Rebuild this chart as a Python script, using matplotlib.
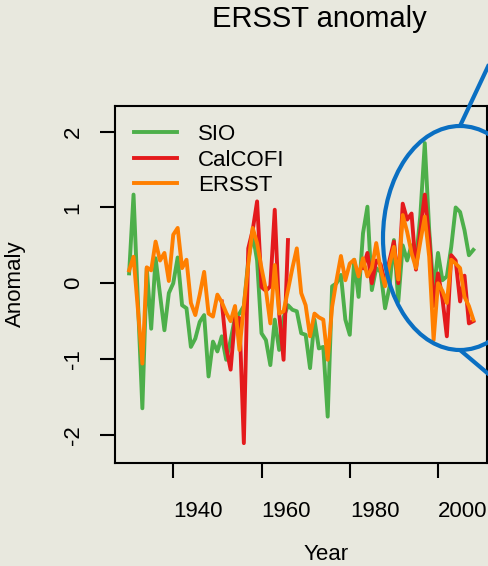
import numpy as np
import matplotlib
matplotlib.use("Agg")
import matplotlib.pyplot as plt
from matplotlib.patches import Ellipse

nan = np.nan

# yearly anomalies 1930-2008
years = list(range(1930, 2009))

sio = [0.13, 1.17, -0.25, -1.65, 0.20, -0.60, 0.33, -0.15, -0.62, -0.13,
       0.00, 0.34, -0.29, -0.33, -0.84, -0.73, -0.51, -0.42, -1.23, -0.77,
       -0.90, -0.70, -1.01, -0.75, -0.45, -0.40, -0.30, 0.30, 0.65, 0.30,
       -0.66, -0.75, -1.08, -0.48, -0.88, -0.45, -0.29, -0.35, -0.37, -0.66,
       -0.68, -1.12, -0.48, -0.86, -0.84, -1.76, -0.04, 0.00, 0.11, -0.48,
       -0.68, 0.31, -0.18, 0.66, 1.01, -0.09, 0.20, 0.15, -0.33, -0.05,
       0.57, -0.24, 0.50, 0.30, 0.50, 0.30, 0.90, 1.85, 0.70, -0.10,
       0.40, 0.04, 0.09, 0.48, 1.00, 0.94, 0.70, 0.37, 0.44]

calcofi = [nan] * 21 + [
       -0.24, -0.85, -1.14, -0.45, -0.46, -2.11, 0.46, 0.70, 1.08,
       -0.05, -0.10, -0.04, 0.97, -0.40, -1.01, 0.57] + [nan] * 16 + [
       0.20, 0.40, 0.00, 0.30, 0.25, 0.00, 0.30,
       0.55, 0.00, 1.05, 0.84, 0.92, 0.18, 0.70, 1.17, 0.60, -0.30,
       0.13, -0.20, -0.70, 0.37, 0.30, -0.24, 0.10, -0.53, -0.50]

ersst = [0.17, 0.35, -0.35, -1.06, 0.21, 0.17, 0.55, 0.30, 0.40, 0.03,
         0.64, 0.73, 0.20, 0.31, -0.26, -0.42, -0.15, 0.15, -0.40, -0.44,
         -0.15, -0.25, -0.39, -0.50, -0.30, -0.88, -0.30, 0.25, 0.73, 0.53,
         0.20, -0.09, -0.53, 0.24, -0.40, -0.37, -0.09, 0.20, 0.46, -0.13,
         -0.29, -0.70, -0.40, -0.45, -0.48, -1.01, -0.31, 0.04, 0.36, 0.04,
         0.26, 0.31, 0.09, 0.33, 0.09, 0.20, 0.53, 0.18, -0.04, 0.25,
         0.48, 0.05, 0.90, 0.68, 0.40, 0.20, 0.55, 0.88, 0.35, -0.75,
         0.00, -0.10, -0.26, 0.31, 0.26, 0.20, -0.18, -0.30, -0.48]

xticks = [1940, 1960, 1980, 2000]
yticks = [-2, -1, 0, 1, 2]

bg = '#E8E8DE'
plt.rcParams['font.family'] = ['Liberation Sans', 'DejaVu Sans']
plt.rcParams['axes.unicode_minus'] = False

W, H = 488, 566
fig = plt.figure(figsize=(W / 100, H / 100), dpi=100, facecolor=bg)

# main plot area (pixel box 115..487 x 106..463)
ax = fig.add_axes([115 / W, 1 - 463 / H, 372 / W, 357 / H])
ax.set_facecolor(bg)

lw = 2.8
ax.plot(years, sio, color='#4DAF4A', lw=lw, label='SIO')
ax.plot(years, calcofi, color='#E41A1C', lw=lw, label='CalCOFI')
ax.plot(years, ersst, color='#FF7F00', lw=lw, label='ERSST')

ax.set_xlim(1926.8, 2011.1)
ax.set_ylim(-2.372, 2.339)
ax.set_xticks(xticks)
ax.set_yticks(yticks)
ax.tick_params(direction='out', length=10.5, width=1.5, labelsize=16, color='black')
ax.tick_params(axis='x', pad=17)
ax.tick_params(axis='y', pad=12)
for lab in ax.get_xticklabels():
    lab.set_ha('left')
for lab in ax.get_yticklabels():
    lab.set_rotation(90)
    lab.set_va('center')
for sp in ax.spines.values():
    sp.set_linewidth(1.5)

leg = ax.legend(loc='upper left', bbox_to_anchor=(0.028, 0.974), frameon=False,
                fontsize=16, handlelength=1.9, handletextpad=0.95,
                labelspacing=0.2, borderaxespad=0.0)

# overlay in pixel coordinates for labels and the highlight ellipse
ov = fig.add_axes([0, 0, 1, 1])
ov.set_xlim(0, W)
ov.set_ylim(H, 0)
ov.axis('off')
ov.patch.set_visible(False)

ov.text(319.5, 19, 'ERSST anomaly', fontsize=21, ha='center', va='center')
ov.text(326, 555, 'Year', fontsize=16, ha='center', va='center')
ov.text(15, 284, 'Anomaly', fontsize=16, ha='center', va='center', rotation=90)

blue = '#0A6FC2'
ov.add_patch(Ellipse((460, 238), 154, 224, fill=False, ec=blue, lw=3.0))
ov.plot([460, 492], [126, 58], color=blue, lw=3.0, solid_capstyle='butt')
ov.plot([460, 492], [350, 377], color=blue, lw=3.0, solid_capstyle='butt')

fig.savefig('out.png', dpi=100, facecolor=bg)
